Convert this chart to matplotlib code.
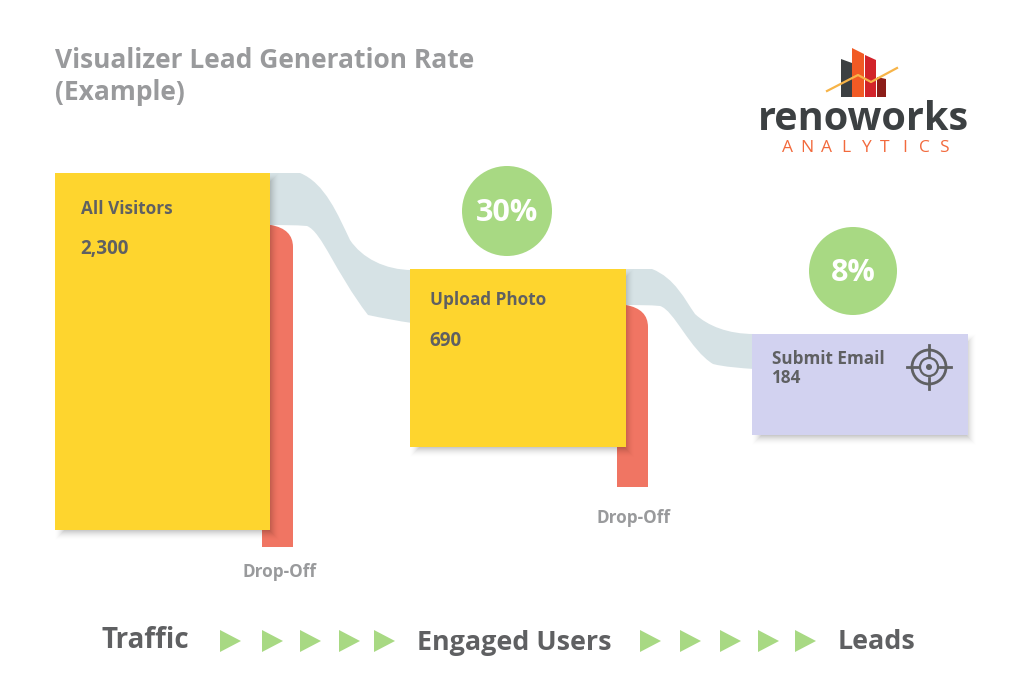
import matplotlib
matplotlib.use("Agg")
import matplotlib.pyplot as plt
from matplotlib.patches import Rectangle, Circle, Polygon, PathPatch
from matplotlib.path import Path

# values
stages = ["All Visitors", "Upload Photo", "Submit Email"]
counts = ["2,300", "690", "184"]
rates = ["30%", "8%"]
funnel_labels = ["Traffic", "Engaged Users", "Leads"]

# layout in image pixels
box_x = [55, 410, 752]
box_top = [173, 269, 334]
box_bottom = [530, 447, 435]
box_w = 216
drop_x = [262, 617]
drop_top = [225, 305]
drop_bottom = [547, 487]
circle_x = [507, 853]
circle_y = [211, 271]
arrows_x = [220, 262, 300, 339, 374, 640, 680, 720, 758, 795]

YELLOW = "#fed52e"
LILAC = "#d2d2f0"
RED = "#f07563"
FLOW = "#d6e2e5"
GREEN = "#a8d983"
TEXT = "#5f6062"
GREY = "#999a9c"

plt.rcParams["font.family"] = ["Open Sans", "DejaVu Sans"]

fig = plt.figure(figsize=(10.24, 6.83), dpi=100)
ax = fig.add_axes([0, 0, 1, 1])
ax.set_xlim(0, 1024)
ax.set_ylim(683, 0)
ax.axis("off")


def shadow(x0, y0, x1, y1, z, blur=10):
    # soft shadow, falls to the right and down only, fades out at the rim
    for i in range(blur):
        grow = blur - i
        ax.add_patch(Rectangle((x0 + 10 - grow, y0 + 10 - grow), x1 - x0 - 12 + 2 * grow, y1 - y0 - 10 + 2 * grow,
                               fc="black", ec="none", alpha=0.004 * (i + 1), zorder=z))


def flow(top, bottom):
    verts = top + bottom[::-1]
    codes = [Path.MOVETO] + [Path.CURVE4] * (len(top) - 1) + [Path.LINETO] + [Path.CURVE4] * (len(bottom) - 1) + [Path.CLOSEPOLY]
    verts = verts + [verts[0]]
    ax.add_patch(PathPatch(Path(verts, codes), fc=FLOW, ec="none", zorder=1))


def drop(x, top, bottom, w=31, r=22):
    verts = [(x, bottom), (x, top), (x + w - r, top), (x + w, top + 4), (x + w, top + r), (x + w, bottom), (x, bottom)]
    codes = [Path.MOVETO, Path.LINETO, Path.LINETO, Path.CURVE3, Path.CURVE3, Path.LINETO, Path.CLOSEPOLY]
    ax.add_patch(PathPatch(Path(verts, codes), fc=RED, ec="none", zorder=2))


# connectors between the boxes
flow([(268, 173), (280, 173), (290, 173), (300, 173), (325, 183), (338, 215), (350, 240), (362, 258), (385, 270), (412, 270)],
     [(268, 225), (280, 225), (295, 225), (307, 226), (322, 232), (335, 272), (368, 315), (382, 318), (398, 321), (412, 323)])
flow([(623, 269), (635, 269), (645, 269), (652, 269), (675, 278), (685, 300), (695, 314), (708, 326), (728, 334), (754, 334)],
     [(623, 305), (635, 305), (650, 305), (660, 306), (674, 310), (690, 350), (713, 364), (725, 367), (740, 368), (754, 369)])

for x, t, b in zip(drop_x, drop_top, drop_bottom):
    drop(x, t, b)

for i in range(3):
    x0, y0, y1 = box_x[i], box_top[i], box_bottom[i]
    shadow(x0, y0, x0 + box_w, y1, 3)
    ax.add_patch(Rectangle((x0, y0), box_w - (1 if i == 0 else 0), y1 - y0, fc=LILAC if i == 2 else YELLOW, ec="none", zorder=4))

for x, y, r, t in zip(circle_x, circle_y, [45, 44], rates):
    ax.add_patch(Circle((x, y), r, fc=GREEN, ec="none", zorder=2))
    ax.text(x, y + 2, t, color="white", fontsize=22, weight="bold", ha="center", va="center", zorder=5)

# box labels
ax.text(81, 209, stages[0], color=TEXT, fontsize=12.3, weight="bold", va="center", zorder=5)
ax.text(80, 249, counts[0], color=TEXT, fontsize=13.6, weight="bold", va="center", zorder=5)
ax.text(430, 300, stages[1], color=TEXT, fontsize=12.3, weight="bold", va="center", zorder=5)
ax.text(429, 341, counts[1], color=TEXT, fontsize=13.6, weight="bold", va="center", zorder=5)
ax.text(772, 359, stages[2], color=TEXT, fontsize=12.3, weight="bold", va="center", zorder=5)
ax.text(771, 378, counts[2], color=TEXT, fontsize=12.3, weight="bold", va="center", zorder=5)

ax.text(280, 572, "Drop-Off", color=GREY, fontsize=12.3, weight="bold", ha="center", va="center")
ax.text(633, 518, "Drop-Off", color=GREY, fontsize=12.3, weight="bold", ha="center", va="center")

ax.text(55, 60, "Visualizer Lead Generation Rate", color=GREY, fontsize=19, weight="bold", va="center")
ax.text(55, 92, "(Example)", color=GREY, fontsize=19, weight="bold", va="center")

# target icon
ax.add_patch(Circle((929, 367), 17, fc="none", ec=TEXT, lw=2, zorder=5))
ax.add_patch(Circle((929, 367), 9, fc="none", ec=TEXT, lw=1.6, zorder=5))
ax.add_patch(Circle((929, 367), 3, fc=TEXT, ec="none", zorder=5))
ax.plot([907, 918], [367, 367], color=TEXT, lw=2, zorder=5)
ax.plot([940, 951], [367, 367], color=TEXT, lw=2, zorder=5)
ax.plot([929, 929], [345, 356], color=TEXT, lw=2, zorder=5)
ax.plot([929, 929], [378, 389], color=TEXT, lw=2, zorder=5)

# bottom funnel row
ax.text(145, 641, funnel_labels[0], color=TEXT, fontsize=20, weight="bold", ha="center", va="center")
ax.text(514, 643, funnel_labels[1], color=TEXT, fontsize=19.4, weight="bold", ha="center", va="center")
ax.text(876, 642, funnel_labels[2], color=TEXT, fontsize=19.4, weight="bold", ha="center", va="center")
for x in arrows_x:
    ax.add_patch(Polygon([(x, 630), (x + 21, 641), (x, 652)], fc=GREEN, ec="none"))

# logo
ax.add_patch(Polygon([(841, 59), (852, 63), (852, 97), (841, 97)], fc="#3c4042", ec="none"))
ax.add_patch(Polygon([(852, 48), (864, 54), (864, 97), (852, 97)], fc="#f15a24", ec="none"))
ax.add_patch(Polygon([(865, 55), (876, 60), (876, 97), (865, 97)], fc="#d2232a", ec="none"))
ax.add_patch(Polygon([(877, 77), (886, 79), (886, 97), (877, 97)], fc="#8c1d18", ec="none"))
ax.plot([827, 858, 871, 897], [91, 75, 82, 68], color="#f7b448", lw=1.6)
ax.text(863.5, 119, "renoworks", color="#3c4042", fontsize=28.5, weight="bold", ha="center", va="center")
for i, c in enumerate("ANALYTICS"):
    ax.text(787 + i * 19.6, 148, c, color="#f26a3d", fontsize=12.5, weight="medium", ha="center", va="center")

fig.savefig("out.png", dpi=100)
